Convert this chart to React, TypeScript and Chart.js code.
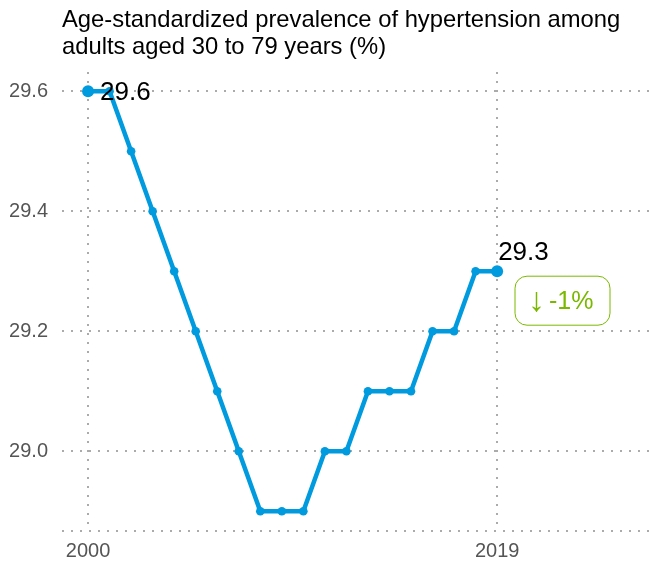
import React, { useEffect, useRef } from "react";
import { Chart, registerables } from "chart.js";

Chart.register(...registerables);

const years = [2000, 2001, 2002, 2003, 2004, 2005, 2006, 2007, 2008, 2009, 2010, 2011, 2012, 2013, 2014, 2015, 2016, 2017, 2018, 2019];
const prevalence = [29.6, 29.6, 29.5, 29.4, 29.3, 29.2, 29.1, 29.0, 28.9, 28.9, 28.9, 29.0, 29.0, 29.1, 29.1, 29.1, 29.2, 29.2, 29.3, 29.3];
const xTicks = [2000, 2019];
const yTicks = [29.0, 29.2, 29.4, 29.6];
const yMin = 28.867;
const yMax = 29.632;
const titleLines = ["Age-standardized prevalence of hypertension among", "adults aged 30 to 79 years (%)"];
const changeArrow = "↓";
const changeText = "-1%";

const FONT = "'Liberation Sans', Arial, sans-serif";
const BLUE = "#009ADE";
const GREEN = "#7AB800";
const GRID = "#ababab";

export default function App() {
  const ref = useRef<HTMLCanvasElement | null>(null);
  useEffect(() => {
    if (!ref.current) return;
    const overlay = {
      id: "overlay",
      afterDraw(chart: any) {
        const ctx = chart.ctx;
        const xs = chart.scales.x;
        const ys = chart.scales.y;
        ctx.save();
        ctx.fillStyle = "#000";
        ctx.font = `23.8px ${FONT}`;
        ctx.textAlign = "left";
        ctx.textBaseline = "middle";
        ctx.fillText(titleLines[0], 62, 20);
        ctx.fillText(titleLines[1], 62, 47);
        // end labels
        const n = prevalence.length;
        ctx.font = `26px ${FONT}`;
        const x0 = xs.getPixelForValue(years[0]);
        const y0 = ys.getPixelForValue(prevalence[0]);
        ctx.fillText(prevalence[0].toFixed(1), x0 + 12, y0 + 2);
        const x1 = xs.getPixelForValue(years[n - 1]);
        const y1 = ys.getPixelForValue(prevalence[n - 1]);
        ctx.fillText(prevalence[n - 1].toFixed(1), x1 + 1, y1 - 18);
        // badge
        const bx = 515, by = y1 + 5, bw = 95, bh = 49, r = 12;
        ctx.strokeStyle = GREEN;
        ctx.lineWidth = 1;
        ctx.beginPath();
        ctx.moveTo(bx + r, by);
        ctx.arcTo(bx + bw, by, bx + bw, by + bh, r);
        ctx.arcTo(bx + bw, by + bh, bx, by + bh, r);
        ctx.arcTo(bx, by + bh, bx, by, r);
        ctx.arcTo(bx, by, bx + bw, by, r);
        ctx.closePath();
        ctx.stroke();
        ctx.fillStyle = GREEN;
        ctx.textAlign = "left";
        ctx.font = `34px ${FONT}`;
        ctx.fillText(changeArrow, 528, by + bh / 2 + 1);
        ctx.font = `25px ${FONT}`;
        ctx.fillText(changeText, 549, by + bh / 2 + 1);
        ctx.restore();
      },
    };
    const chart = new Chart(ref.current, {
      type: "line",
      data: {
        datasets: [
          {
            data: years.map((y, i) => ({ x: y, y: prevalence[i] })),
            borderColor: BLUE,
            backgroundColor: BLUE,
            borderWidth: 4.5,
            pointRadius: prevalence.map((_, i) => (i === 0 || i === prevalence.length - 1 ? 6 : 4.3)),
            pointBorderWidth: 0,
            tension: 0,
            clip: false,
          },
        ],
      },
      options: {
        animation: false,
        responsive: false,
        layout: { autoPadding: false, padding: { top: 72, left: 0, right: 0, bottom: 0 } },
        plugins: { legend: { display: false }, tooltip: { enabled: false }, title: { display: false } },
        scales: {
          x: {
            type: "linear",
            min: 1998.79,
            max: 2026.1,
            afterBuildTicks: (s: any) => {
              s.ticks = xTicks.map((v) => ({ value: v }));
            },
            afterFit: (s: any) => {
              s.height = 34;
            },
            ticks: {
              color: "#555",
              font: { family: FONT, size: 20 },
              padding: 8,
              callback: (v: any) => String(v),
              maxRotation: 0,
            },
            grid: { color: GRID, lineWidth: 2, drawTicks: false },
            border: { display: false, dash: [2, 7] },
          },
          y: {
            min: yMin,
            max: yMax,
            afterBuildTicks: (s: any) => {
              s.ticks = [yMin, ...yTicks].map((v) => ({ value: v }));
            },
            afterFit: (s: any) => {
              s.width = 62;
            },
            ticks: {
              color: "#555",
              font: { family: FONT, size: 20 },
              padding: 14,
              callback: (v: any) => (yTicks.includes(Number(v)) ? Number(v).toFixed(1) : ""),
            },
            grid: { color: GRID, lineWidth: 2, drawTicks: false },
            border: { display: false, dash: [2, 7] },
          },
        },
      } as any,
      plugins: [overlay],
    });
    return () => chart.destroy();
  }, []);
  return (
    <div style={{ position: "fixed", left: 0, top: 0, width: 650, height: 565, background: "#fff" }}>
      <canvas ref={ref} width={650} height={565} style={{ width: 650, height: 565 }} />
    </div>
  );
}
